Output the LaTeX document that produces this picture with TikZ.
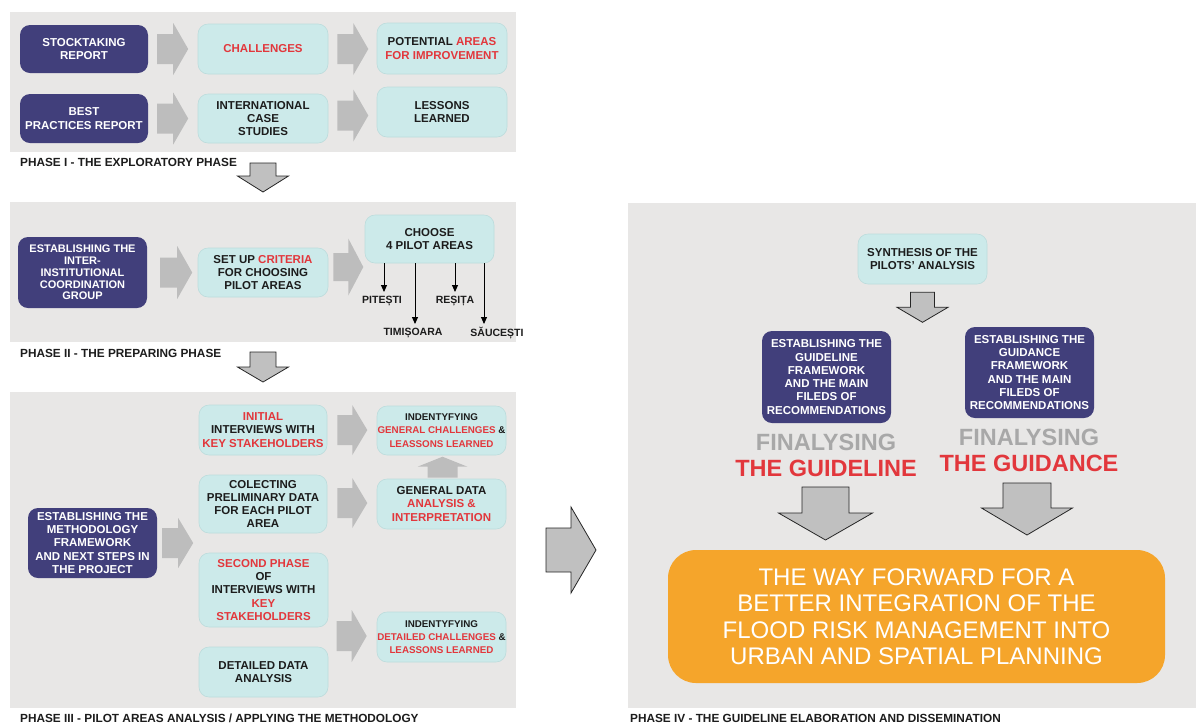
\documentclass[tikz,border=0pt]{standalone}
\usepackage{fontspec}
\setmainfont{Liberation Sans}
\usetikzlibrary{arrows.meta,calc,positioning}
\definecolor{panelgray}{HTML}{E8E7E6}
\definecolor{navy}{HTML}{413F7B}
\definecolor{aqua}{HTML}{CCEAEA}
\definecolor{aquaedge}{HTML}{BCDCDC}
\definecolor{hred}{HTML}{E2373C}
\definecolor{blockgray}{HTML}{BDBDBD}
\definecolor{outgray}{HTML}{C0C0C0}
\definecolor{orangebox}{HTML}{F5A52B}
\definecolor{fingray}{HTML}{A8A8A8}
\definecolor{ink}{HTML}{1C1C1C}
\newcommand{\rd}[1]{\textcolor{hred}{#1}}
\tikzset{
  navybox/.style={rounded corners=10pt, fill=navy, text=white, align=center, inner sep=0pt,
    font=\fontsize{11.5}{13.3}\selectfont\bfseries},
  aquabox/.style={rounded corners=10pt, fill=aqua, draw=aquaedge, line width=0.6pt, text=ink,
    align=center, inner sep=0pt, font=\fontsize{11.5}{13.3}\selectfont\bfseries},
  smalltext/.style={font=\fontsize{9.8}{13.3}\selectfont\bfseries},
  boxsize/.style 2 args={minimum width=#1pt, minimum height=#2pt},
  phaselabel/.style={anchor=west, inner sep=0pt, text=ink, font=\fontsize{11.8}{13}\selectfont\bfseries},
  place/.style={inner sep=0pt, text=ink, font=\fontsize{10.5}{12}\selectfont\bfseries},
  pilot/.style={-{Triangle[length=7pt,width=6pt]}, line width=0.9pt, draw=black},
  bigword/.style={inner sep=0pt, font=\fontsize{23.5}{26}\selectfont\bfseries},
  pics/flatarrow/.style n args={4}{code={
    \fill[blockgray] (0,-#2) -- (#1,-#2) -- (#1,-#3) -- ({#1+#4},0) -- (#1,#3) -- (#1,#2) -- (0,#2) -- cycle;}},
  pics/edgearrow/.style n args={4}{code={
    \filldraw[fill=outgray, draw=black!85, line width=0.8pt, line join=miter]
      (0,-#2) -- (#1,-#2) -- (#1,-#3) -- ({#1+#4},0) -- (#1,#3) -- (#1,#2) -- (0,#2) -- cycle;}}
}
\begin{document}
\begin{tikzpicture}[x=1pt,y=-1pt]
\useasboundingbox (0,0) rectangle (1198,724);
\fill[panelgray] (10,12) rectangle (516,152);
\fill[panelgray] (10,202) rectangle (516,342);
\fill[panelgray] (10,392) rectangle (516,708);
\fill[panelgray] (628,203) rectangle (1196,708);

\node[phaselabel] (lab1) at (20,162) {PHASE I - THE EXPLORATORY PHASE};
\node[phaselabel] (lab2) at (20,353) {PHASE II - THE PREPARING PHASE};
\node[phaselabel] (lab3) at (20,718) {PHASE III - PILOT AREAS ANALYSIS / APPLYING THE METHODOLOGY};
\node[phaselabel] (lab4) at (630,718) {PHASE IV - THE GUIDELINE ELABORATION AND DISSEMINATION};

\node[navybox, boxsize={128}{48}] (stock) at (84,49) {STOCKTAKING\\REPORT};
\node[aquabox, boxsize={130}{50}] (chal) at (263,49) {\rd{CHALLENGES}};
\node[aquabox, boxsize={130}{51}] (potent) at (442,48.5) {POTENTIAL \rd{AREAS}\\\rd{FOR IMPROVEMENT}};
\node[navybox, boxsize={128}{49}] (best) at (84,118.5) {BEST\\PRACTICES REPORT};
\node[aquabox, boxsize={130}{49}] (intl) at (263,118.5) {INTERNATIONAL\\CASE\\STUDIES};
\node[aquabox, boxsize={130}{50}] (lessons) at (442,112) {LESSONS\\LEARNED};
\pic at ($(stock.east)+(9,0)$) {flatarrow={16}{15}{26}{15}};
\pic at ($(chal.east)+(9,0)$) {flatarrow={16}{15}{26}{15}};
\pic at ($(best.east)+(9,0)$) {flatarrow={16}{15}{26}{15}};
\pic at ($(intl.east)+(9,-3)$) {flatarrow={16}{15}{26}{15}};
\pic[rotate=-90] at (263,163) {edgearrow={13}{13}{25.5}{16}};

\node[navybox, boxsize={129}{71}, font=\fontsize{11}{11.8}\selectfont\bfseries] (coord) at (82.5,272.5)
  {ESTABLISHING THE\\INTER-\\INSTITUTIONAL\\COORDINATION\\GROUP};
\node[aquabox, boxsize={130}{49}] (criteria) at (263,272.5) {SET UP \rd{CRITERIA}\\FOR CHOOSING\\PILOT AREAS};
\node[aquabox, boxsize={129}{48}] (choose) at (429.5,239) {CHOOSE\\4 PILOT AREAS};
\pic at ($(coord.east)+(13,0)$) {flatarrow={17}{15}{26.5}{15}};
\pic at ($(criteria.east)+(5,-5.5)$) {flatarrow={15}{14}{28.5}{15}};
\coordinate (pitend) at (384,292);
\coordinate (timend) at (415,324);
\coordinate (resend) at (455,292);
\coordinate (sauend) at (484,324);
\node[place] (pit) at (382,301) {PITEȘTI};
\node[place] (tim) at (413,333) {TIMIȘOARA};
\node[place] (res) at (455,301) {REȘIȚA};
\node[place] (sau) at (497,333) {SĂUCEȘTI};
\draw[pilot] (choose.south -| pitend) -- (pitend);
\draw[pilot] (choose.south -| timend) -- (timend);
\draw[pilot] (choose.south -| resend) -- (resend);
\draw[pilot] (choose.south -| sauend) -- (sauend);
\pic[rotate=-90] at (263,352) {edgearrow={15}{13}{25.5}{15}};

\node[aquabox, boxsize={128}{50}] (init) at (263,430) {\rd{INITIAL}\\INTERVIEWS WITH\\\rd{KEY STAKEHOLDERS}};
\node[aquabox, boxsize={129}{49}, smalltext] (gen) at (441.5,430.5)
  {INDENTYFYING\\\rd{GENERAL CHALLENGES} \&\\\rd{LEASSONS LEARNED}};
\node[aquabox, boxsize={128}{58}] (colect) at (263,504) {COLECTING\\PRELIMINARY DATA\\FOR EACH PILOT\\AREA};
\node[aquabox, boxsize={129}{50}] (gdata) at (441.5,504) {GENERAL DATA\\\rd{ANALYSIS \&}\\\rd{INTERPRETATION}};
\node[navybox, boxsize={129}{70}] (method) at (92.5,543)
  {ESTABLISHING THE\\METHODOLOGY\\FRAMEWORK\\AND NEXT STEPS IN\\THE PROJECT};
\node[aquabox, boxsize={129}{74}] (second) at (263.5,590) {\rd{SECOND PHASE}\\OF\\INTERVIEWS WITH\\\rd{KEY}\\\rd{STAKEHOLDERS}};
\node[aquabox, boxsize={129}{50}, smalltext] (detgen) at (441.5,637)
  {INDENTYFYING\\\rd{DETAILED CHALLENGES} \&\\\rd{LEASSONS LEARNED}};
\node[aquabox, boxsize={129}{50}] (detdata) at (263.5,672) {DETAILED DATA\\ANALYSIS};
\pic at ($(init.east)+(10,0)$) {flatarrow={15}{15}{25}{15}};
\pic at ($(colect.east)+(10,-1)$) {flatarrow={15}{15}{25}{15}};
\pic at ($(method.east)+(5,0)$) {flatarrow={16}{15}{25}{15}};
\pic at ($(detgen.west)+(-40,-1)$) {flatarrow={15}{15}{26}{15}};
\pic[rotate=90] at ($(gdata.north)+(1,-1)$) {flatarrow={11}{15}{25}{10}};

\pic at (546,550) {edgearrow={25}{22}{43}{25}};

\node[aquabox, boxsize={129}{50}] (synth) at (922.5,259) {SYNTHESIS OF THE\\PILOTS' ANALYSIS};
\pic[rotate=-90] at ($(synth.south)+(0,8)$) {edgearrow={15}{12}{25.5}{15}};
\node[navybox, boxsize={129}{92}] (guideline) at (826.5,377)
  {ESTABLISHING THE\\GUIDELINE\\FRAMEWORK\\AND THE MAIN\\FILEDS OF\\RECOMMENDATIONS};
\node[navybox, boxsize={129}{91}] (guidance) at (1029.5,372.5)
  {ESTABLISHING THE\\GUIDANCE\\FRAMEWORK\\AND THE MAIN\\FILEDS OF\\RECOMMENDATIONS};
\node[bigword, text=fingray] (fin1) at (826,442) {FINALYSING};
\node[bigword, text=hred] (title1) at (826,468) {THE GUIDELINE};
\node[bigword, text=fingray] (fin2) at (1029,437) {FINALYSING};
\node[bigword, text=hred] (title2) at (1029,463) {THE GUIDANCE};
\node[rounded corners=28pt, fill=orangebox, text=white, align=center, boxsize={497}{133},
  font=\fontsize{24}{26.5}\selectfont] (way) at (916.5,616.5)
  {THE WAY FORWARD FOR A\\BETTER INTEGRATION OF THE\\FLOOD RISK MANAGEMENT INTO\\URBAN AND SPATIAL PLANNING};
\pic[rotate=-90] at ($(title1)+(-0.5,19)$) {edgearrow={26}{23.5}{47}{27}};
\pic[rotate=-90] at ($(title2)+(-2,20)$) {edgearrow={25}{24}{45.5}{27}};
\end{tikzpicture}
\end{document}
